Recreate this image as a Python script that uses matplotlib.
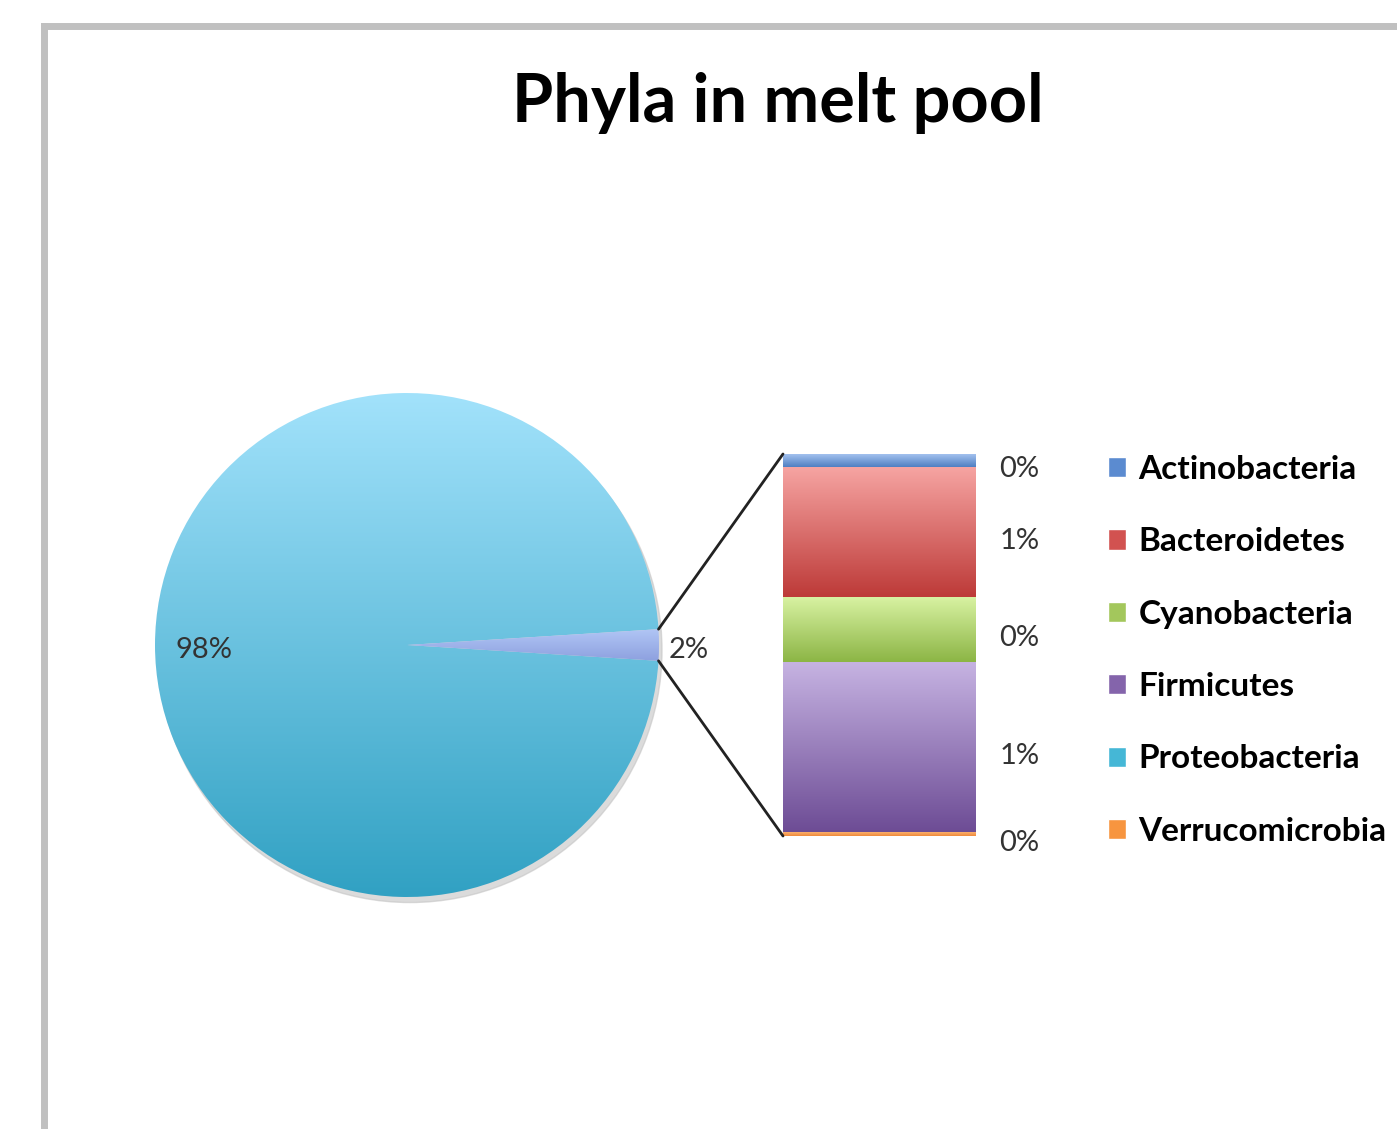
import numpy as np
import matplotlib
matplotlib.use("Agg")
import matplotlib.pyplot as plt
from matplotlib.patches import ConnectionPatch, Patch
from matplotlib.colors import LinearSegmentedColormap
from matplotlib.lines import Line2D

plt.rcParams['font.family'] = ['Lato', 'DejaVu Sans']

# data (percent of all reads)
phyla = ['Actinobacteria', 'Bacteroidetes', 'Cyanobacteria', 'Firmicutes',
         'Proteobacteria', 'Verrucomicrobia']
values = [0.07, 0.68, 0.34, 0.89, 98.0, 0.02]
bar_labels = ['0%', '1%', '0%', '1%', '0%']

# gradient colours, top -> bottom
grad = {
    'Actinobacteria': ('#a9c6f2', '#4f7fc2'),
    'Bacteroidetes': ('#f6a4a2', '#bd3a38'),
    'Cyanobacteria': ('#d8f2a2', '#8cb545'),
    'Firmicutes': ('#c6b3e2', '#6d4c95'),
    'Proteobacteria': ('#a2e2fb', '#31a1c3'),
    'Verrucomicrobia': ('#fbb06e', '#f08a3a'),
}
other_grad = ('#b3c8f6', '#8b9ede')
legend_cols = ['#5b8bd0', '#d25250', '#a3c75c', '#8464ab', '#45b7d6', '#f7953f']

small = [p for p in phyla if p != 'Proteobacteria']
small_vals = [values[phyla.index(p)] for p in small]
other = sum(small_vals)
main = values[phyla.index('Proteobacteria')]

W, H = 1397, 1129
fig = plt.figure(figsize=(W / 100, H / 100), dpi=100)


def fax(x0, y0, x1, y1):
    return fig.add_axes([x0 / W, 1 - y1 / H, (x1 - x0) / W, (y1 - y0) / H])


def gradient_fill(ax, patch, c_top, c_bot, extent):
    cmap = LinearSegmentedColormap.from_list('g', [c_bot, c_top])
    g = np.linspace(0, 1, 256).reshape(-1, 1)
    im = ax.imshow(g, cmap=cmap, extent=extent, origin='lower', aspect='auto',
                   zorder=patch.get_zorder())
    im.set_clip_path(patch)
    patch.set_facecolor('none')


# pie
ax1 = fax(155, 393, 659, 897)
ang = 360 * other / (other + main)
wedges, texts, autotexts = ax1.pie([other, main], startangle=-ang / 2,
                                   autopct='%1.0f%%', pctdistance=0.8,
                                   textprops={'fontsize': 21, 'color': '#333333'})
shadow = plt.Circle((0.012, -0.022), 1.0, color='#c4c4c4', alpha=0.6, zorder=0,
                    clip_on=False)
ax1.add_patch(shadow)
gradient_fill(ax1, wedges[1], *grad['Proteobacteria'], extent=(-1, 1, -1, 1))
gradient_fill(ax1, wedges[0], *other_grad, extent=(0, 1, -0.07, 0.07))
for w in wedges:
    w.set_edgecolor('none')
autotexts[0].set_position((1.04, -0.02))
autotexts[0].set_ha('left')
autotexts[1].set_position((-0.92, -0.02))
autotexts[1].set_ha('left')
ax1.set_xlim(-1, 1)
ax1.set_ylim(-1, 1)

# stacked bar
ax2 = fax(783, 454, 976, 836)
bottom = 0
bars = []
for name, v in zip(small[::-1], small_vals[::-1]):
    b = ax2.bar(0, v, bottom=bottom, width=1, edgecolor='#dddddd', linewidth=0.8)[0]
    bars.append((name, b, bottom, v))
    bottom += v
ax2.set_xlim(-0.5, 0.5)
ax2.set_ylim(0, other)
ax2.axis('off')
for name, b, b0, v in bars:
    gradient_fill(ax2, b, *grad[name], extent=(-0.5, 0.5, b0, b0 + v))
for (name, b, b0, v), lab in zip(bars, bar_labels[::-1]):
    ax2.text(0.62, b0 + v / 2 - 0.045, lab, fontsize=21, color='#333333',
             ha='left', va='center')

# connection lines
theta1, theta2 = wedges[0].theta1, wedges[0].theta2
for th, yb in ((theta2, other), (theta1, 0)):
    x = np.cos(np.radians(th))
    y = np.sin(np.radians(th))
    con = ConnectionPatch(xyA=(-0.5, yb), coordsA=ax2.transData,
                          xyB=(x, y), coordsB=ax1.transData,
                          color='#222222', linewidth=2)
    fig.add_artist(con)

# legend
handles = [Patch(facecolor=c, edgecolor='white') for c in legend_cols]
fig.legend(handles, phyla, loc='upper left',
           bbox_to_anchor=(1108 / W, 1 - 455 / H), frameon=False,
           prop={'weight': 'bold', 'size': 24},
           borderaxespad=0, borderpad=0,
           handlelength=0.55, handleheight=0.55, handletextpad=0.36,
           labelspacing=1.3)

fig.text(778 / W, 1 - 103 / H, 'Phyla in melt pool', fontsize=48,
         fontweight='bold', ha='center', va='center')

# chart border
fig.add_artist(Line2D([43.5 / W, 43.5 / W], [1 - 26 / H, 0], color='#c0c0c0', linewidth=5))
fig.add_artist(Line2D([44 / W, 1], [1 - 25.5 / H, 1 - 25.5 / H], color='#c0c0c0', linewidth=5))

fig.savefig('out.png', dpi=100)
